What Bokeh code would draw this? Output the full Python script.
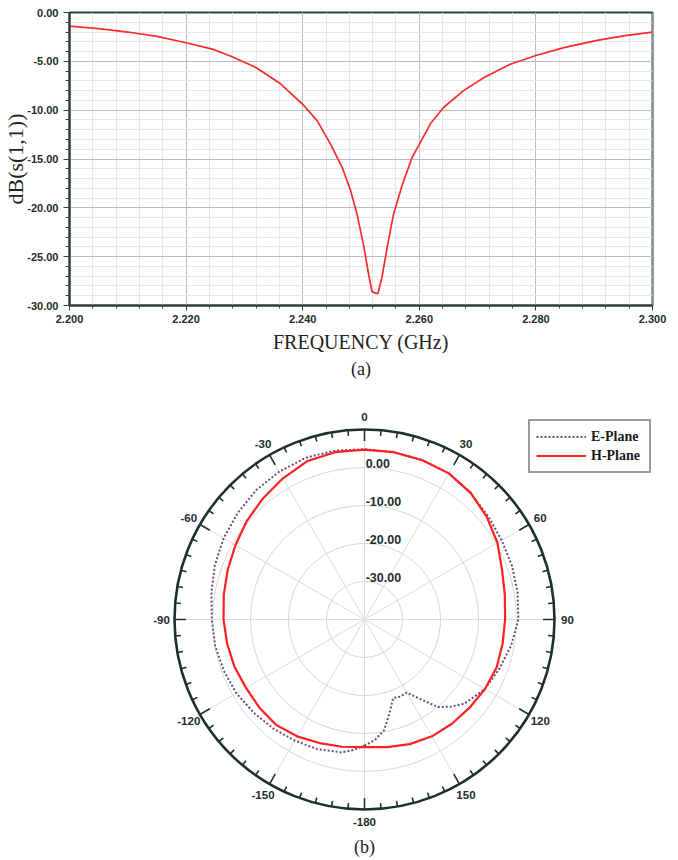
import math
from bokeh.plotting import figure
from bokeh.models import (Range1d, FixedTicker, NumeralTickFormatter, Label,
                          Legend, LegendItem, Title)
from bokeh.layouts import column
from bokeh.embed import file_html
from bokeh.resources import INLINE
from bokeh.core.properties import value

# ---------------- data: (a) return loss ----------------
freq_ghz = [2.200, 2.205, 2.210, 2.215, 2.220, 2.2245, 2.2276, 2.2319, 2.2362,
            2.2400, 2.2425, 2.2448, 2.2468, 2.2482, 2.2493, 2.2505, 2.2513,
            2.2519, 2.2529, 2.2536, 2.2545, 2.2556, 2.2571, 2.2588, 2.2600,
            2.2619, 2.2642, 2.2676, 2.2711, 2.2756, 2.2800, 2.2848, 2.2905,
            2.2950, 2.3000]
s11_db = [-1.4, -1.65, -2.0, -2.45, -3.1, -3.75, -4.45, -5.6, -7.3,
          -9.4, -11.1, -13.5, -15.9, -18.2, -20.6, -24.0, -26.8,
          -28.6, -28.8, -27.1, -24.0, -20.6, -17.6, -14.8, -13.5,
          -11.4, -9.7, -8.0, -6.65, -5.3, -4.4, -3.6, -2.85,
          -2.4, -2.0]
x_ticks = [2.200, 2.220, 2.240, 2.260, 2.280, 2.300]
y_ticks = [0, -5, -10, -15, -20, -25, -30]

# ---------------- data: (b) radiation pattern ----------------
h_angles = [-180, -170, -160, -150, -140, -130, -120, -110, -100, -90, -80,
            -70, -60, -50, -40, -30, -20, -10, 0, 10, 20, 30, 40, 50, 60, 70,
            80, 90, 100, 110, 120, 130, 140, 150, 160, 170, 180]
h_plane_db = [-6.4, -6.0, -5.4, -4.5, -3.8, -3.9, -4.0, -3.6, -3.3, -2.9, -2.4,
              -1.7, -0.8, 0.4, 1.6, 2.9, 4.3, 4.7, 4.7, 4.7, 4.6, 4.4, 3.5, 2.0,
              0.4, -1.5, -2.5, -3.0, -3.1, -3.0, -3.4, -3.9, -4.2, -4.5, -5.1,
              -5.9, -6.4]
e_angles = [-180, -175, -170, -160, -150, -140, -130, -120, -110, -100, -90,
            -80, -70, -60, -50, -40, -30, -20, -10, 0, 10, 20, 30, 40, 50, 60,
            70, 80, 90, 100, 110, 120, 130, 135, 140, 145, 150, 155, 160, 165,
            170, 175, 180]
e_plane_db = [-6.8, -5.5, -4.5, -3.7, -3.2, -2.6, -1.9, -1.1, -0.6, -0.1, 0.2,
              0.9, 1.9, 2.8, 3.6, 4.4, 4.9, 5.3, 5.1, 4.8, 4.7, 4.6, 4.4, 3.4,
              2.4, 1.7, 1.3, 0.9, 0.5, -0.8, -2.2, -3.4, -5.6, -7.6, -9.9,
              -14.5, -17.8, -17.6, -18.0, -14.5, -10.4, -8.2, -6.8]
ring_db = [0, -10, -20, -30]
ring_labels = ["0.00", "-10.00", "-20.00", "-30.00"]
angle_label_deg = [0, 30, 60, 90, 120, 150, 180, -150, -120, -90, -60, -30]
angle_labels = ["0", "30", "60", "90", "120", "150", "-180", "-150", "-120",
                "-90", "-60", "-30"]
r_min_db = -40.0   # centre of the polar plot
r_max_db = 10.0    # outer ring

DARK = "#2f3f3f"
TXT = "#1e2c2c"
SERIF_TXT = "#222222"

# ================= figure (a) =================
W = 678
H1 = 385
BL, BR = 69, 26
p1 = figure(width=W, height=H1, output_backend="svg", toolbar_location=None,
            x_range=Range1d(2.200, 2.300), y_range=Range1d(-30, 0),
            min_border_left=BL, min_border_right=BR, min_border_top=12,
            min_border_bottom=80)
p1.line(freq_ghz, s11_db, line_color="#ff2a2a", line_width=1.7)

p1.xaxis.ticker = FixedTicker(ticks=x_ticks,
                              minor_ticks=[2.2 + 0.004 * i for i in range(26)])
p1.yaxis.ticker = FixedTicker(ticks=y_ticks, minor_ticks=list(range(-30, 1)))
p1.xaxis.formatter = NumeralTickFormatter(format="0.000")
p1.yaxis.formatter = NumeralTickFormatter(format="0.00")
for ax in (p1.xaxis, p1.yaxis):
    ax.major_label_text_font = "Liberation Sans"
    ax.major_label_text_font_style = "bold"
    ax.major_label_text_font_size = "11px"
    ax.major_label_text_color = TXT
    ax.axis_line_color = DARK
    ax.axis_line_width = 2
    ax.major_tick_line_color = DARK
    ax.minor_tick_line_color = DARK
    ax.major_tick_in = 0
    ax.minor_tick_in = 0
    ax.axis_label_text_font = "Liberation Serif"
    ax.axis_label_text_font_style = "normal"
    ax.axis_label_text_color = SERIF_TXT
p1.xaxis.major_tick_out = 5
p1.xaxis.minor_tick_out = 3
p1.yaxis.major_tick_out = 6
p1.yaxis.minor_tick_out = 4
p1.xaxis.major_label_standoff = 4
p1.yaxis.major_label_standoff = 5
p1.xaxis.axis_label = "FREQUENCY (GHz)"
p1.xaxis.axis_label_text_font_size = "20px"
p1.xaxis.axis_label_standoff = 5
p1.yaxis.axis_label = "dB(s(1,1))"
p1.yaxis.axis_label_text_font_size = "22px"
p1.yaxis.axis_label_standoff = -4

p1.add_layout(Title(text="(a)", align="center", text_font="Liberation Serif",
                    text_font_size="18px", text_font_style="normal",
                    text_color=SERIF_TXT, standoff=3), "below")

p1.grid.grid_line_color = "#b4bebe"
p1.grid.grid_line_width = 1
p1.grid.minor_grid_line_color = "#e3e8e8"
p1.grid.minor_grid_line_width = 1
p1.outline_line_color = DARK
p1.outline_line_width = 2
p1.outline_line_alpha = 1

# ================= figure (b) =================
H2 = 860 - H1
SC = 3.8           # px per dB
CXP = 364          # centre x on page
CYF = 619 - H1     # centre y from figure top
FW = W - BL - BR   # frame width
p2 = figure(width=W, height=H2, output_backend="svg", toolbar_location=None,
            x_range=Range1d(-(CXP - BL) / SC, (FW - (CXP - BL)) / SC),
            y_range=Range1d(-(H2 - CYF) / SC, CYF / SC),
            min_border_left=BL, min_border_right=BR, min_border_top=0,
            min_border_bottom=0, x_axis_type=None, y_axis_type=None)
p2.grid.visible = False
p2.outline_line_color = None

R_OUT = r_max_db - r_min_db

# grid circles
ring_r = [d - r_min_db for d in ring_db]
p2.circle(x=[0] * len(ring_r), y=[0] * len(ring_r), radius=ring_r,
          fill_color=None, line_color="#d3d8d8", line_width=1)
# spokes every 30 deg
sp = list(range(0, 360, 30))
p2.segment(x0=[0] * len(sp), y0=[0] * len(sp),
           x1=[R_OUT * math.sin(math.radians(a)) for a in sp],
           y1=[R_OUT * math.cos(math.radians(a)) for a in sp],
           line_color="#d8dddd", line_width=1)

# ring labels
p2.text(x=[0.3] * len(ring_r), y=ring_r, text=ring_labels,
        text_font=value("Liberation Sans"), text_font_style="bold",
        text_font_size="12.5px", text_color=TXT, text_align="left",
        text_baseline="middle", y_offset=-4)

# pattern curves
def to_xy(angles, vals):
    xs, ys = [], []
    for a, v in zip(angles, vals):
        r = v - r_min_db
        xs.append(r * math.sin(math.radians(a)))
        ys.append(r * math.cos(math.radians(a)))
    return xs, ys

ex, ey = to_xy(e_angles, e_plane_db)
hx, hy = to_xy(h_angles, h_plane_db)
re = p2.line(ex, ey, line_color="#6a4c82", line_width=2, line_dash="2 2")
rh = p2.line(hx, hy, line_color="#ff2020", line_width=2.2)

# outer ring with ticks
p2.circle(x=[0], y=[0], radius=[R_OUT], fill_color=None,
          line_color="#1c3030", line_width=2.6)
tk = list(range(0, 360, 5))
tlen = [(3.0 if a % 30 == 0 else 1.5) for a in tk]
p2.segment(x0=[R_OUT * math.sin(math.radians(a)) for a in tk],
           y0=[R_OUT * math.cos(math.radians(a)) for a in tk],
           x1=[(R_OUT - l) * math.sin(math.radians(a)) for a, l in zip(tk, tlen)],
           y1=[(R_OUT - l) * math.cos(math.radians(a)) for a, l in zip(tk, tlen)],
           line_color="#1c3030", line_width=1.6)
RL = R_OUT + 3.4
p2.text(x=[RL * math.sin(math.radians(a)) for a in angle_label_deg],
        y=[RL * math.cos(math.radians(a)) for a in angle_label_deg],
        text=angle_labels, text_font=value("Liberation Sans"),
        text_font_style="bold", text_font_size="11.5px", text_color=TXT,
        text_align="center", text_baseline="middle")

legend = Legend(items=[LegendItem(label="E-Plane", renderers=[re]),
                       LegendItem(label="H-Plane", renderers=[rh])],
                location=(528 - BL, 860 - 473), orientation="vertical",
                label_text_font="Liberation Serif",
                label_text_font_style="bold", label_text_font_size="14px",
                label_text_color="#1a1a1a", glyph_width=50, glyph_height=19,
                label_height=19, label_width=52, label_standoff=5,
                padding=6, spacing=0, margin=0,
                border_line_color="#2b3b3b", border_line_width=2,
                background_fill_color="white", background_fill_alpha=1)
p2.add_layout(legend)

p2.add_layout(Label(x=CXP - BL, y=860 - 846, x_units="screen",
                    y_units="screen", text="(b)", text_align="center",
                    text_baseline="middle", text_font="Liberation Serif",
                    text_font_size="18px", text_color=SERIF_TXT))

layout = column(p1, p2, spacing=0)
open("out.html", "w").write(file_html(layout, INLINE))
